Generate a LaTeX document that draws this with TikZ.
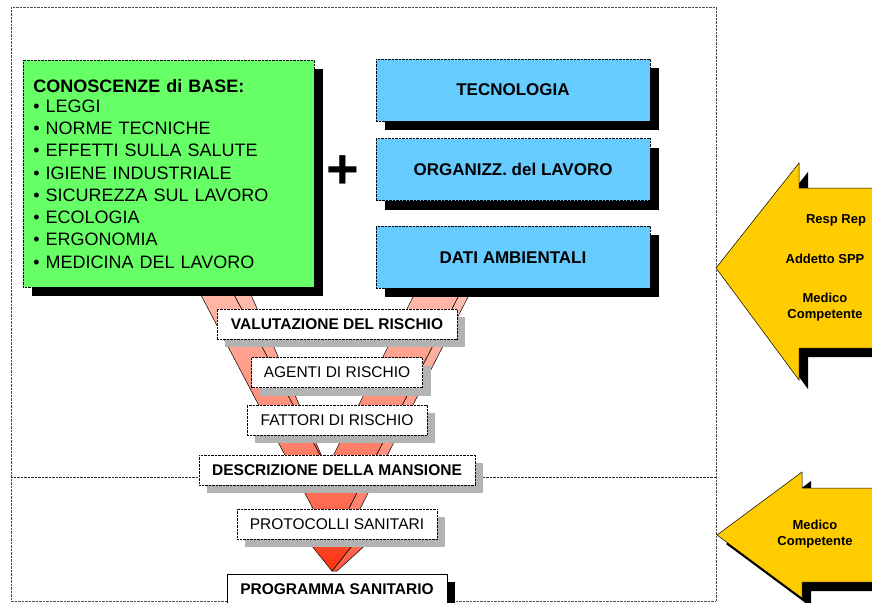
\documentclass[tikz,border=0pt]{standalone}
\usepackage{fontspec}
\setmainfont{Liberation Sans}
\usetikzlibrary{positioning,shadows}
\definecolor{lime}{HTML}{66FF66}
\definecolor{sky}{HTML}{66CCFF}
\definecolor{amber}{HTML}{FFCC00}
\definecolor{shade}{HTML}{B3B3B3}
\definecolor{salmontop}{HTML}{FFBCAC}
\definecolor{salmonbot}{HTML}{FF5A40}
\definecolor{sidetop}{HTML}{FFC2B4}
\definecolor{sidebot}{HTML}{FF7560}
\definecolor{redtop}{HTML}{FF5438}
\definecolor{redbot}{HTML}{FF2E0E}
\newcommand{\stepfont}{\fontsize{15.5}{18}\selectfont}

\begin{document}
\begin{tikzpicture}[x=1pt,y=-1pt,
  node distance=18pt,
  dots/.style={dash pattern=on 0.7pt off 0.7pt,line width=0.6pt},
  blackshadow/.style={general shadow={fill=black,shadow xshift=9pt,shadow yshift=-9pt}},
  greyshadow/.style={general shadow={fill=shade,shadow xshift=8pt,shadow yshift=-8pt}},
  basebox/.style={draw,dots,fill=lime,blackshadow,anchor=north west,minimum width=291pt,minimum height=227pt,text width=271pt,inner xsep=10pt,align=left,font=\fontsize{18}{22.3}\selectfont},
  techbox/.style={draw,dots,fill=sky,blackshadow,minimum width=274pt,minimum height=62pt,font=\fontsize{17}{20}\selectfont\bfseries},
  stepbox/.style={draw,dots,fill=white,greyshadow,minimum height=30pt,inner sep=0pt,font=\stepfont},
  boldstep/.style={stepbox,font=\stepfont\bfseries},
  endbox/.style={draw,line width=0.6pt,fill=white,general shadow={fill=black,shadow xshift=8pt,shadow yshift=-8pt},minimum height=30pt,inner sep=0pt,font=\stepfont\bfseries},
  funnel/.style={draw=black,line width=0.5pt,line join=round},
  arrowpath/.style={fill=amber,draw=black,line width=0.5pt,blackshadow},
  who/.style={align=center,font=\fontsize{13}{16}\selectfont\bfseries}
]
\useasboundingbox (0,0) rectangle (872,602);
% frame and divider
\draw[dots,draw=black!70] (11,7) rectangle (716,601);
\draw[dots,draw=black!80] (11,477) -- (716,477);
% funnel: side walls first, then the front face
\draw[funnel,top color=sidetop,bottom color=sidebot] (228.7,285) -- (327,468) -- (246.7,285) -- cycle;
\draw[funnel,top color=sidetop,bottom color=sidebot] (464.2,285) -- (474.1,285) -- (337,554) -- (331,543) -- cycle;
\draw[funnel,top color=salmontop,bottom color=salmonbot]
  (195.7,285) -- (331,543) -- (464.2,285) -- (419,285) -- (327,468) -- (228.7,285) -- cycle;
\draw[funnel,top color=sidebot,bottom color=salmonbot] (364.6,530) -- (382,530) -- (337,571) -- (332,571) -- cycle;
\draw[funnel,top color=redtop,bottom color=redbot] (299,530) -- (364.6,530) -- (332,571) -- cycle;
% inputs
\node[basebox] (base) at (23,60) {\textbf{CONOSCENZE di BASE:}\\[-2.3pt]
  • LEGGI\\
  • NORME TECNICHE\\
  • EFFETTI SULLA SALUTE\\
  • IGIENE INDUSTRIALE\\
  • SICUREZZA SUL LAVORO\\
  • ECOLOGIA\\
  • ERGONOMIA\\
  • MEDICINA DEL LAVORO};
\node[font=\fontsize{56}{56}\selectfont\bfseries] (plus) at (343,172) {+};
\node[techbox] (tecno) at (513,90) {TECNOLOGIA};
\node[techbox,below=17pt of tecno] (org) {ORGANIZZ. del LAVORO};
\node[techbox,below=25pt of org] (dati) {DATI AMBIENTALI};
% steps
\node[boldstep,minimum width=240pt] (valuta) at (337,324) {VALUTAZIONE DEL RISCHIO};
\node[stepbox,minimum width=171pt,below=of valuta] (agenti) {AGENTI DI RISCHIO};
\node[stepbox,minimum width=180pt,below=17pt of agenti] (fattori) {FATTORI DI RISCHIO};
\node[boldstep,minimum width=276pt,below=19pt of fattori] (mansione) {DESCRIZIONE DELLA MANSIONE};
\node[stepbox,minimum width=200pt,below=24pt of mansione] (protocolli) {PROTOCOLLI SANITARI};
\node[endbox,minimum width=220pt,below=34pt of protocolli] (programma) {PROGRAMMA SANITARIO};
% actors
\draw[arrowpath] (716,268) -- (799,163) -- (799,188) -- (880,188) -- (880,348) -- (799,348) -- (799,380) -- cycle;
\draw[arrowpath] (717,535) -- (802,472) -- (802,488) -- (880,488) -- (880,582) -- (802,582) -- (802,598) -- cycle;
\node[who] (resp) at (836,220) {Resp Rep};
\node[who] (spp) at (825,259) {Addetto SPP};
\node[who] (medico) at (825,307) {Medico\\Competente};
\node[who] (medicobis) at (815,534) {Medico\\Competente};
\end{tikzpicture}
\end{document}
